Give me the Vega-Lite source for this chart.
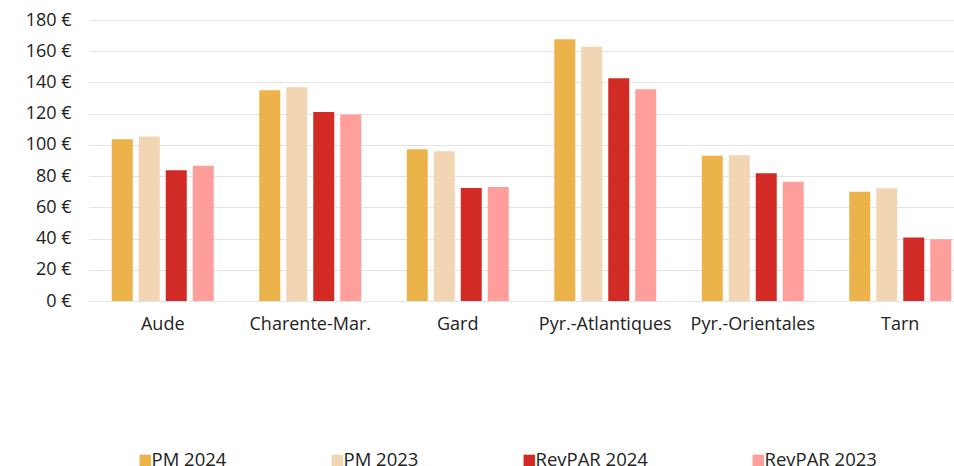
{
  "$schema": "https://vega.github.io/schema/vega-lite/v6.json",
  "width": 885,
  "height": 281,
  "autosize": {"type": "none"},
  "padding": {"left": 89, "top": 20, "right": 0, "bottom": 165},
  "background": "white",
  "config": {
    "font": "Open Sans",
    "view": {"stroke": null}
  },
  "data": {
    "values": [
      {"dep": "Aude", "serie": "PM 2024", "v": 103.6},
      {"dep": "Aude", "serie": "PM 2023", "v": 105.3},
      {"dep": "Aude", "serie": "RevPAR 2024", "v": 83.7},
      {"dep": "Aude", "serie": "RevPAR 2023", "v": 86.7},
      {"dep": "Charente-Mar.", "serie": "PM 2024", "v": 135.0},
      {"dep": "Charente-Mar.", "serie": "PM 2023", "v": 136.9},
      {"dep": "Charente-Mar.", "serie": "RevPAR 2024", "v": 121.1},
      {"dep": "Charente-Mar.", "serie": "RevPAR 2023", "v": 119.4},
      {"dep": "Gard", "serie": "PM 2024", "v": 97.2},
      {"dep": "Gard", "serie": "PM 2023", "v": 95.9},
      {"dep": "Gard", "serie": "RevPAR 2024", "v": 72.4},
      {"dep": "Gard", "serie": "RevPAR 2023", "v": 73.0},
      {"dep": "Pyr.-Atlantiques", "serie": "PM 2024", "v": 167.6},
      {"dep": "Pyr.-Atlantiques", "serie": "PM 2023", "v": 162.9},
      {"dep": "Pyr.-Atlantiques", "serie": "RevPAR 2024", "v": 142.7},
      {"dep": "Pyr.-Atlantiques", "serie": "RevPAR 2023", "v": 135.6},
      {"dep": "Pyr.-Orientales", "serie": "PM 2024", "v": 93.1},
      {"dep": "Pyr.-Orientales", "serie": "PM 2023", "v": 93.3},
      {"dep": "Pyr.-Orientales", "serie": "RevPAR 2024", "v": 81.8},
      {"dep": "Pyr.-Orientales", "serie": "RevPAR 2023", "v": 76.4},
      {"dep": "Tarn", "serie": "PM 2024", "v": 70.0},
      {"dep": "Tarn", "serie": "PM 2023", "v": 72.2},
      {"dep": "Tarn", "serie": "RevPAR 2024", "v": 40.6},
      {"dep": "Tarn", "serie": "RevPAR 2023", "v": 39.5}
    ]
  },
  "mark": {"type": "bar"},
  "encoding": {
    "x": {
      "field": "dep",
      "type": "nominal",
      "sort": null,
      "scale": {"paddingInner": 0.268, "paddingOuter": 0.134},
      "axis": {
        "title": null,
        "labelAngle": 0,
        "domain": false,
        "ticks": false,
        "labelFontSize": 18,
        "labelColor": "#222",
        "labelPadding": 14
      }
    },
    "xOffset": {
      "field": "serie",
      "type": "nominal",
      "sort": ["PM 2024", "PM 2023", "RevPAR 2024", "RevPAR 2023"],
      "scale": {"paddingInner": 0.222, "paddingOuter": 0.111}
    },
    "y": {
      "field": "v",
      "type": "quantitative",
      "scale": {"domain": [0, 180]},
      "axis": {
        "title": null,
        "values": [0, 20, 40, 60, 80, 100, 120, 140, 160, 180],
        "labelExpr": "datum.value + ' €'",
        "domain": false,
        "ticks": false,
        "gridColor": "#e4e4e4",
        "gridWidth": 1.2,
        "labelFontSize": 18,
        "labelColor": "#222",
        "labelPadding": 18
      }
    },
    "color": {
      "field": "serie",
      "type": "nominal",
      "sort": ["PM 2024", "PM 2023", "RevPAR 2024", "RevPAR 2023"],
      "scale": {
        "domain": ["PM 2024", "PM 2023", "RevPAR 2024", "RevPAR 2023"],
        "range": ["#EBB34A", "#F2D6B4", "#D22B25", "#FF9E9B"]
      },
      "legend": {
        "title": null,
        "orient": "none",
        "direction": "horizontal",
        "legendX": 47,
        "legendY": 431,
        "symbolType": "square",
        "symbolSize": 130,
        "symbolStrokeWidth": 0,
        "labelFontSize": 18.5,
        "labelColor": "#222",
        "labelOffset": -3,
        "columnPadding": 101
      }
    }
  }
}
